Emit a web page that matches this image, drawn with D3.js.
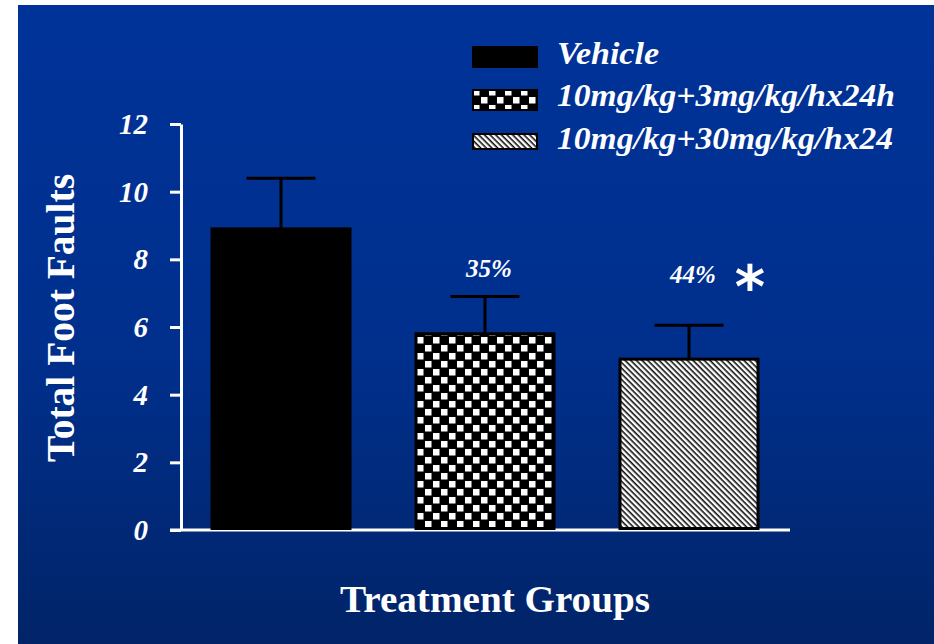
<!DOCTYPE html>
<html>
<head>
<meta charset="utf-8">
<script src="https://cdn.jsdelivr.net/npm/d3@7"></script>
<style>
  html, body { margin: 0; padding: 0; background: #fff; }
  svg { display: block; }
</style>
</head>
<body>
<div id="chart"></div>
<script>
// Bar chart: total foot faults per treatment group, mean + upper error bar
const groups = ['Vehicle', '10mg/kg+3mg/kg/hx24h', '10mg/kg+30mg/kg/hx24'];
const means = [8.9, 5.8, 5.05];
const errTops = [10.4, 6.9, 6.05];
const barLabels = ['', '35%', '44%'];
const sigMarks = ['', '', '*'];
const yTicks = [0, 2, 4, 6, 8, 10, 12];

const width = 934, height = 644;

const svg = d3.select('#chart').append('svg')
    .attr('width', width)
    .attr('height', height);

const defs = svg.append('defs');

// blue slide background
const grad = defs.append('linearGradient')
    .attr('id', 'bg')
    .attr('x1', 0).attr('y1', 0).attr('x2', 0).attr('y2', 1);
grad.append('stop').attr('offset', '0%').attr('stop-color', '#003399');
grad.append('stop').attr('offset', '55%').attr('stop-color', '#002f8c');
grad.append('stop').attr('offset', '100%').attr('stop-color', '#012468');

// checkerboard fill
const check = defs.append('pattern')
    .attr('id', 'check')
    .attr('patternUnits', 'userSpaceOnUse')
    .attr('width', 16).attr('height', 16);
check.append('rect').attr('width', 16).attr('height', 16).attr('fill', '#000');
check.append('rect').attr('x', 1).attr('y', 1).attr('width', 6.5).attr('height', 6.5).attr('fill', '#fff');
check.append('rect').attr('x', 9).attr('y', 9).attr('width', 6.5).attr('height', 6.5).attr('fill', '#fff');

// diagonal hatch fill, "\" direction
const hatch = defs.append('pattern')
    .attr('id', 'hatch')
    .attr('patternUnits', 'userSpaceOnUse')
    .attr('width', 4).attr('height', 4)
    .attr('patternTransform', 'rotate(45)');
hatch.append('rect').attr('width', 4).attr('height', 4).attr('fill', '#fff');
hatch.append('rect').attr('x', 0).attr('y', 0).attr('width', 4).attr('height', 1.6).attr('fill', '#111');

const fills = ['#000', 'url(#check)', 'url(#hatch)'];

svg.append('rect')
    .attr('x', 18).attr('y', 5)
    .attr('width', width - 18).attr('height', height - 5)
    .attr('fill', 'url(#bg)');

const serif = '"Liberation Serif", "Times New Roman", serif';

const x = d3.scaleBand()
    .domain(groups)
    .range([181, 789])
    .paddingInner(0.3235)
    .paddingOuter(0.152);

const y = d3.scaleLinear()
    .domain([0, 12])
    .range([530, 124]);

// axes
const yAxis = svg.append('g')
    .attr('transform', 'translate(181,0)')
    .call(d3.axisLeft(y).tickValues(yTicks).tickSize(11).tickSizeOuter(0).tickPadding(0).tickFormat(''));
yAxis.select('.domain').attr('stroke', '#fff').attr('stroke-width', 3);
yAxis.selectAll('.tick line').attr('stroke', '#fff').attr('stroke-width', 3);

svg.append('g')
    .selectAll('text')
    .data(yTicks)
    .join('text')
    .attr('x', 148)
    .attr('y', d => y(d) + 10)
    .attr('text-anchor', 'end')
    .attr('fill', '#fff')
    .attr('font-family', serif)
    .attr('font-style', 'italic')
    .attr('font-weight', 'bold')
    .attr('font-size', 29)
    .text(d => d);

svg.append('line')
    .attr('x1', 170).attr('x2', 790)
    .attr('y1', y(0)).attr('y2', y(0))
    .attr('stroke', '#fff').attr('stroke-width', 3);

// error bars (drawn under bars)
const err = svg.append('g');
groups.forEach((g, i) => {
    const cx = x(g) + x.bandwidth() / 2;
    err.append('line')
        .attr('x1', cx).attr('x2', cx)
        .attr('y1', y(means[i])).attr('y2', y(errTops[i]))
        .attr('stroke', '#000').attr('stroke-width', 3);
    err.append('line')
        .attr('x1', cx - x.bandwidth() * 0.25).attr('x2', cx + x.bandwidth() * 0.25)
        .attr('y1', y(errTops[i])).attr('y2', y(errTops[i]))
        .attr('stroke', '#000').attr('stroke-width', 3);
});

svg.append('g')
    .selectAll('rect')
    .data(groups)
    .join('rect')
    .attr('x', d => x(d))
    .attr('y', (d, i) => y(means[i]))
    .attr('width', x.bandwidth())
    .attr('height', (d, i) => y(0) - y(means[i]) - 1.5)
    .attr('fill', (d, i) => fills[i])
    .attr('stroke', '#000')
    .attr('stroke-width', 3);

// percent reductions
svg.append('g')
    .selectAll('text')
    .data(groups)
    .join('text')
    .attr('x', d => x(d) + x.bandwidth() / 2 + 4)
    .attr('y', (d, i) => i === 1 ? 277 : 283)
    .attr('text-anchor', 'middle')
    .attr('fill', '#fff')
    .attr('font-family', serif)
    .attr('font-style', 'italic')
    .attr('font-weight', 'bold')
    .attr('font-size', 25)
    .text((d, i) => barLabels[i]);

svg.append('g')
    .selectAll('text')
    .data(groups)
    .join('text')
    .attr('x', d => x(d) + x.bandwidth() + 7)
    .attr('y', 307)
    .attr('text-anchor', 'end')
    .attr('fill', '#fff')
    .attr('font-family', '"DejaVu Sans", sans-serif')
    .attr('font-weight', 'bold')
    .attr('font-size', 58)
    .text((d, i) => sigMarks[i]);

// axis titles
svg.append('text')
    .attr('transform', 'translate(74,318) rotate(-90)')
    .attr('text-anchor', 'middle')
    .attr('fill', '#fff')
    .attr('font-family', serif)
    .attr('font-weight', 'bold')
    .attr('font-size', 39)
    .attr('textLength', 288)
    .attr('lengthAdjust', 'spacingAndGlyphs')
    .text('Total Foot Faults');

svg.append('text')
    .attr('x', 495).attr('y', 612)
    .attr('text-anchor', 'middle')
    .attr('fill', '#fff')
    .attr('font-family', serif)
    .attr('font-weight', 'bold')
    .attr('font-size', 38)
    .attr('textLength', 310)
    .attr('lengthAdjust', 'spacingAndGlyphs')
    .text('Treatment Groups');

// legend
const legendY = [47, 90, 134];
const legendH = [20, 20, 15];
const legendBase = [64, 106, 149];
const legendW = [102, 338, 336];
const legend = svg.append('g');
groups.forEach((g, i) => {
    legend.append('rect')
        .attr('x', 473).attr('y', legendY[i])
        .attr('width', 64).attr('height', legendH[i])
        .attr('fill', fills[i])
        .attr('stroke', '#000').attr('stroke-width', 2);
    legend.append('text')
        .attr('x', 557).attr('y', legendBase[i])
        .attr('fill', '#fff')
        .attr('font-family', serif)
        .attr('font-style', 'italic')
        .attr('font-weight', 'bold')
        .attr('font-size', 31)
        .attr('textLength', legendW[i])
        .attr('lengthAdjust', 'spacingAndGlyphs')
        .text(g);
});
</script>
</body>
</html>
